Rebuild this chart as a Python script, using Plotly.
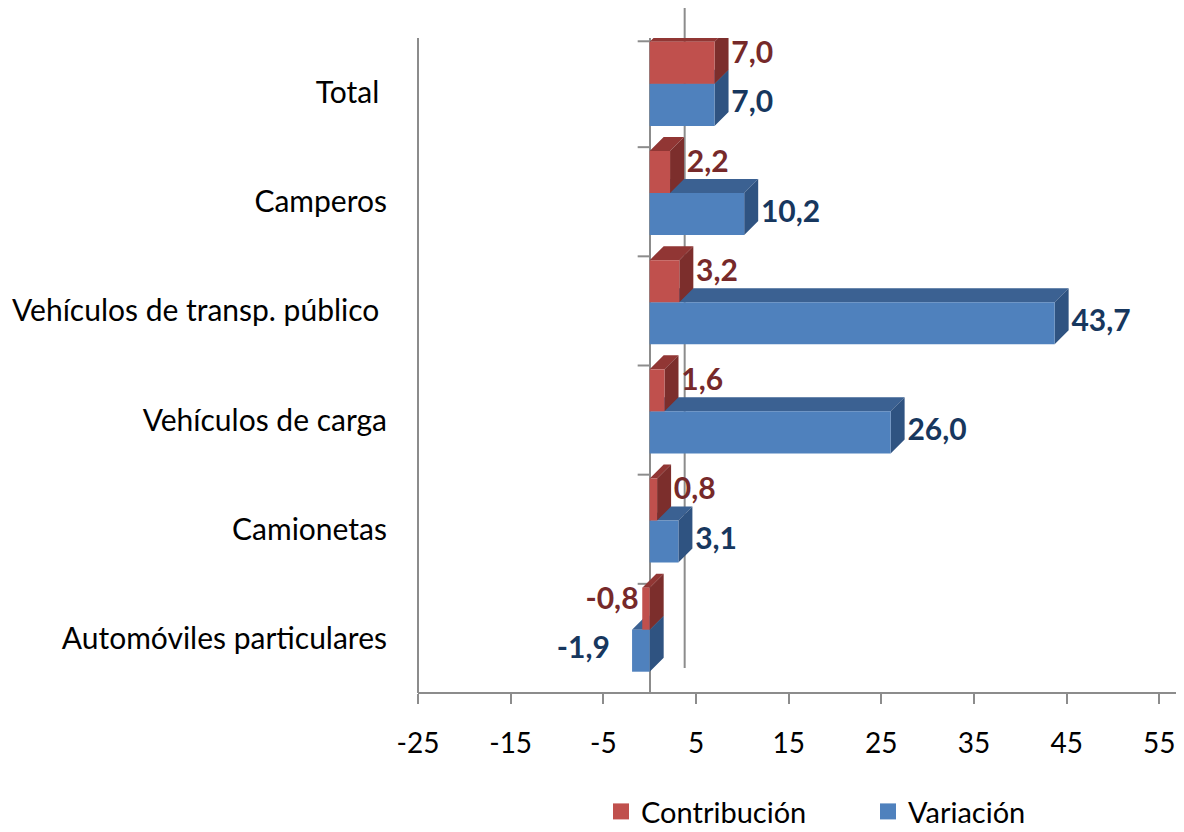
import plotly.graph_objects as go

# ---- data (bottom to top) ----
categories = ["Automóviles particulares", "Camionetas", "Vehículos de carga",
              "Vehículos de transp. público ", "Camperos", "Total "]
contribucion = [-0.8, 0.8, 1.6, 3.2, 2.2, 7.0]
variacion = [-1.9, 3.1, 26.0, 43.7, 10.2, 7.0]
x_ticks = [-25, -15, -5, 5, 15, 25, 35, 45, 55]

# ---- layout constants (page has an 8px body margin) ----
W, H = 1176, 824
ML, MR, MT, MB = 410, 0, 30, 139
PW, PH = W - ML - MR, H - MT - MB
XR = [-25, 57.66]
YR = [-0.5, 5.5]
ppx = PW / (XR[1] - XR[0])
ppy = PH / (YR[1] - YR[0])
DX = 14 / ppx   # 3D depth, x units
DY = 14 / ppy   # 3D depth, y units
BW = 0.385      # bar thickness (y units)
OFF_RED = 0.08 + BW / 2
OFF_BLUE = 0.08 - BW / 2

FONT = "Lato"
GREY = "#8C8C8C"

series = [
    dict(name="Variación", vals=variacion, off=OFF_BLUE, front="#4F81BD",
         top="#3B6192", side="#2F5381", lab="#17375E", lab_dy=0.0, neg_gap=2.4),
    dict(name="Contribución", vals=contribucion, off=OFF_RED, front="#C0504D",
         top="#913634", side="#7C2E2C", lab="#76292A", lab_dy=0.07, neg_gap=0.4),
]

def fmt(v):
    return f"{v:.1f}".replace(".", ",")

fig = go.Figure()
z = 0
for s in series:
    ys = [i + s["off"] for i in range(len(categories))]
    # 3D faces
    tx, ty, sx, sy = [], [], [], []
    for v, yc in zip(s["vals"], ys):
        x0, x1 = min(0, v), max(0, v)
        yb, yt = yc - BW / 2, yc + BW / 2
        tx += [x0, x0 + DX, x1 + DX, x1, x0, None]
        ty += [yt, yt + DY, yt + DY, yt, yt, None]
        sx += [x1, x1, x1 + DX, x1 + DX, x1, None]
        sy += [yb, yt, yt + DY, yb + DY, yb, None]
    fig.add_trace(go.Scatter(x=tx, y=ty, mode="lines", fill="toself",
                             fillcolor=s["top"], line=dict(width=0),
                             showlegend=False, hoverinfo="skip", zorder=z))
    fig.add_trace(go.Scatter(x=sx, y=sy, mode="lines", fill="toself",
                             fillcolor=s["side"], line=dict(width=0),
                             showlegend=False, hoverinfo="skip", zorder=z))
    fig.add_trace(go.Bar(
        x=s["vals"], y=ys, orientation="h", width=BW, name=s["name"],
        marker=dict(color=s["front"], line=dict(width=0)), zorder=z + 1,
        showlegend=False))
    # labels
    px_, nx_, py_, ny_, pt, nt = [], [], [], [], [], []
    for v, yc in zip(s["vals"], ys):
        if v >= 0:
            px_.append(v + DX + 0.3); py_.append(yc + s["lab_dy"]); pt.append(fmt(v))
        else:
            nx_.append(v - s["neg_gap"]); ny_.append(yc + s["lab_dy"]); nt.append(fmt(v))
    fig.add_trace(go.Scatter(x=px_, y=py_, mode="text", text=pt,
                             textposition="middle right",
                             textfont=dict(family=FONT, size=30, color=s["lab"], weight="bold"),
                             showlegend=False, hoverinfo="skip", zorder=5))
    fig.add_trace(go.Scatter(x=nx_, y=ny_, mode="text", text=nt,
                             textposition="middle left",
                             textfont=dict(family=FONT, size=30, color=s["lab"], weight="bold"),
                             showlegend=False, hoverinfo="skip", zorder=5))
    z += 2

# legend entries (square keys)
for s in reversed(series):
    fig.add_trace(go.Scatter(x=[None], y=[None], mode="markers", name=s["name"],
                             marker=dict(symbol="square", size=18, color=s["front"]),
                             showlegend=True))

shapes = []
# left wall and floor lines
shapes.append(dict(type="line", xref="paper", yref="paper", x0=0, x1=0, y0=0, y1=1,
                   line=dict(color=GREY, width=2)))
shapes.append(dict(type="line", xref="paper", yref="paper", x0=0, x1=1, y0=0, y1=0,
                   line=dict(color=GREY, width=2)))
# back-wall zero line
shapes.append(dict(type="line", xref="x", yref="paper", xsizemode="pixel", xanchor=0,
                   x0=35, x1=35, y0=25 / PH, y1=(PH + 30) / PH,
                   line=dict(color=GREY, width=2), layer="below"))
# category boundary ticks on the zero line
for b in range(len(categories)):
    yb = b + 0.5 - (0.03 if b == len(categories) - 1 else 0)
    shapes.append(dict(type="line", xref="x", yref="y", xsizemode="pixel", xanchor=0,
                       x0=-12, x1=0, y0=yb, y1=yb,
                       line=dict(color=GREY, width=2), layer="below"))

fig.update_layout(
    width=W, height=H,
    margin=dict(l=ML, r=MR, t=MT, b=MB, pad=0, autoexpand=False),
    paper_bgcolor="white", plot_bgcolor="white",
    barmode="overlay",
    showlegend=True,
    legend=dict(orientation="h", x=(593 - ML) / PW, xanchor="left", y=-0.181, yanchor="middle",
                font=dict(family=FONT, size=29, color="#000000"),
                entrywidth=222, traceorder="normal", itemsizing="trace",
                borderwidth=0, bgcolor="rgba(0,0,0,0)"),
    shapes=shapes,
    xaxis=dict(range=XR, tickvals=x_ticks, ticktext=[str(t) for t in x_ticks],
               showgrid=False, zeroline=True, zerolinecolor=GREY, zerolinewidth=2,
               showline=False,
               ticks="outside", ticklen=10, tickwidth=2, tickcolor=GREY,
               tickfont=dict(family=FONT, size=28, color="#000000"),
               ticklabelstandoff=15, fixedrange=True),
    yaxis=dict(range=YR, tickvals=list(range(len(categories))),
               ticktext=[c.replace(" ", "\u00a0") if c.endswith(" ") else c for c in categories],
               showgrid=False, zeroline=False, showline=False,
               ticks="", tickfont=dict(family=FONT, size=30, color="#000000"),
               ticklabelstandoff=30, fixedrange=True),
    font=dict(family=FONT),
)

fig.write_html("out.html")
